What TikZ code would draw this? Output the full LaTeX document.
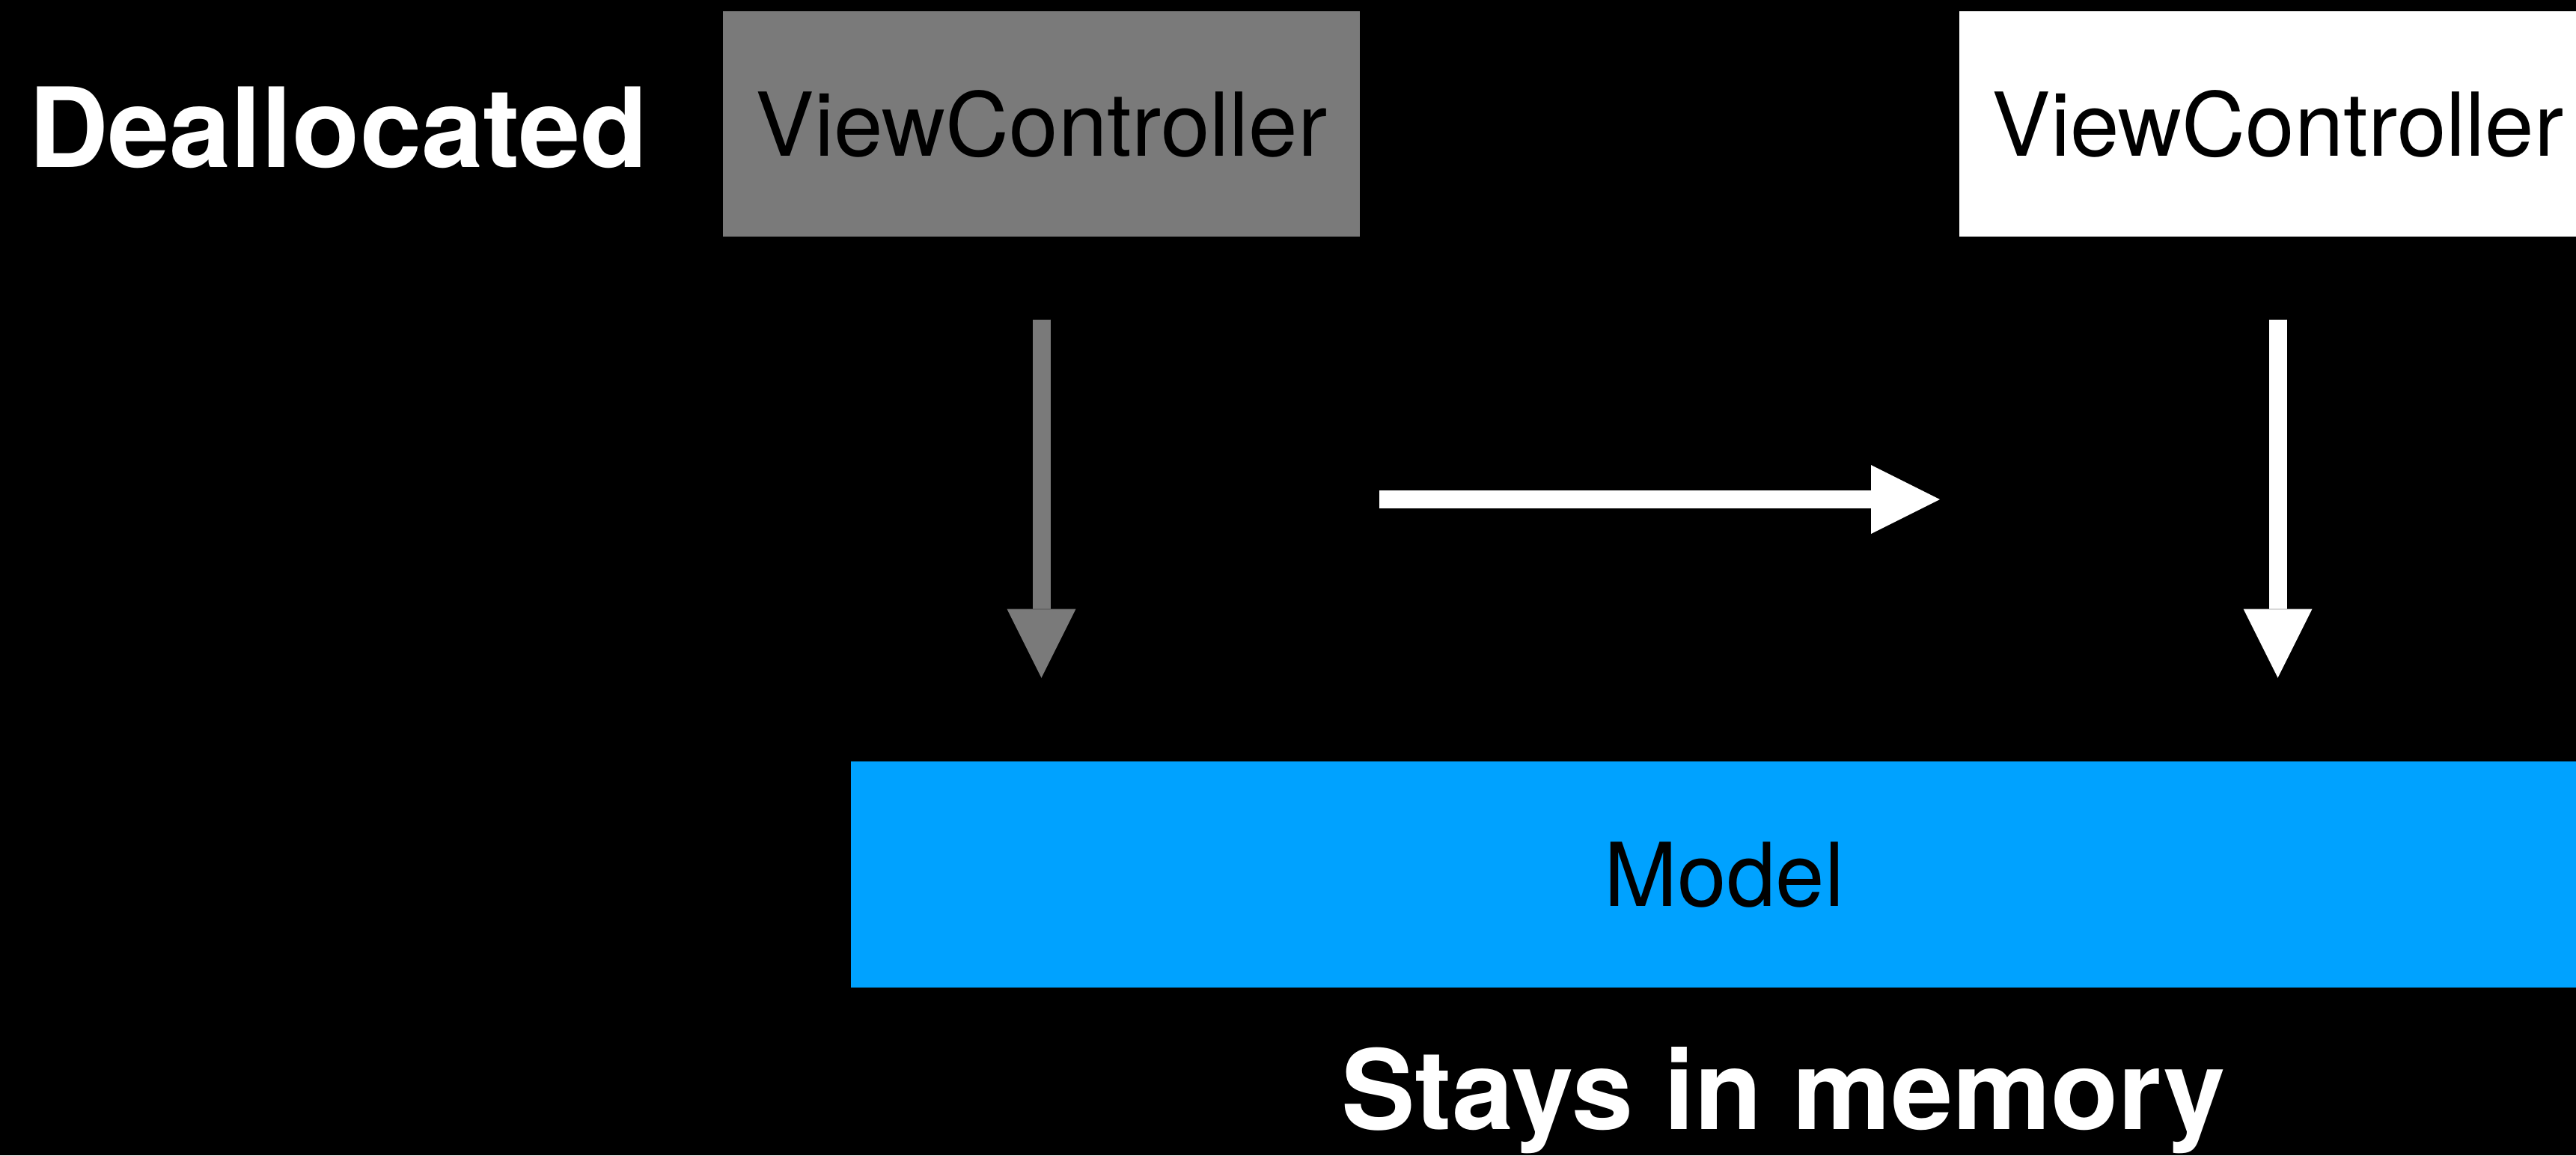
\documentclass[tikz,border=0pt]{standalone}
\usepackage{fontspec}
\setmainfont{TeX Gyre Heros}
\usetikzlibrary{
  arrows.meta,
  positioning
}
\tikzset{>=stealth}
\definecolor{vcgray}{HTML}{7A7A7A}
\definecolor{modelblue}{HTML}{00A2FF}
\tikzset{
  box/.style={rectangle,inner sep=0pt,minimum width=8.51cm,minimum height=3.01cm,
    text=black,font=\fontsize{33.5}{40}\selectfont},
  caption/.style={text=white,anchor=base,font=\bfseries\fontsize{42}{50}\selectfont},
  fat/.style={line width=2.4mm,-{Triangle[length=9.2mm,width=9.2mm,line width=0pt]}}
}

\begin{document}
\begin{tikzpicture}
		%3442 x 1543, 1px = 0.1mm
			\fill[black] (0,0) rectangle (34.42,-15.43);
			\useasboundingbox (0,0) rectangle (34.42,-15.43);
			\clip (0,0) rectangle (34.42,-15.43);
			\node[box,fill=vcgray] (vcOld) at (13.915,-1.655) {ViewController};
			\node[box,fill=white] (vcNew) at (30.435,-1.655) {ViewController};
			\node[box,fill=modelblue,minimum width=23.34cm,minimum height=3.02cm] (model) at (23.04,-11.68) {Model};
			\node[caption] (dealloc) at (4.52,-2.23) {Deallocated};
			\node[caption] (stays) at (23.83,-15.08) {Stays in memory};
			\coordinate (hs) at (18.43,-6.67);
			\coordinate (he) at (25.92,-6.67);
			\draw[fat,vcgray,shorten <=1.1cm,shorten >=1.11cm] (vcOld.south) -- (vcOld.south |- model.north);
			\draw[fat,white,shorten <=1.1cm,shorten >=1.11cm] (vcNew.south) -- (vcNew.south |- model.north);
			\draw[fat,white] (hs) -- (he);
		\end{tikzpicture}
\end{document}
